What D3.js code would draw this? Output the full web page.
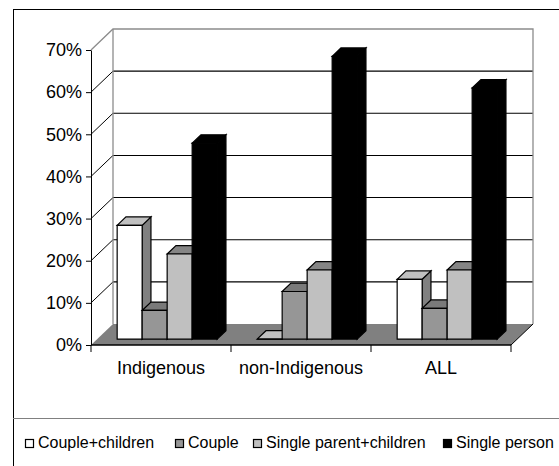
<!DOCTYPE html>
<html>
<head>
<meta charset="utf-8">
<script src="https://cdn.jsdelivr.net/npm/d3@7"></script>
<style>
  body { margin: 0; background: #fff; }
  svg { display: block; }
  text { font-family: "Liberation Sans", Arial, sans-serif; fill: #000; }
</style>
</head>
<body>
<svg id="chart" width="559" height="466"></svg>
<script>
// Household type shares by population group
const categories = ["Indigenous", "non-Indigenous", "ALL"];
const seriesNames = ["Couple+children", "Couple", "Single parent+children", "Single person"];
const coupleChildren = [0.27, 0.0, 0.142];
const couple = [0.068, 0.113, 0.073];
const singleParent = [0.202, 0.164, 0.164];
const singlePerson = [0.465, 0.671, 0.596];
const tickValues = [0, 0.1, 0.2, 0.3, 0.4, 0.5, 0.6, 0.7];
const tickLabels = ["0%", "10%", "20%", "30%", "40%", "50%", "60%", "70%"];

const seriesValues = [coupleChildren, couple, singleParent, singlePerson];
// front / top / side shading per series
const faceColors = [
  { front: "#ffffff", top: "#c0c0c0", side: "#808080" },
  { front: "#969696", top: "#7a7a7a", side: "#5a5a5a" },
  { front: "#c0c0c0", top: "#858585", side: "#606060" },
  { front: "#000000", top: "#000000", side: "#000000" }
];

const svg = d3.select("#chart");

// plot geometry (front plane) and oblique depth offset
const plotLeft = 91, plotRight = 511, plotBottom = 345, plotTop = 50;
const depthX = 22, depthY = -21;
const proj = z => [z * depthX, z * depthY];

const y = d3.scaleLinear().domain([0, 0.7]).range([plotBottom, plotTop]);
const x = d3.scaleBand().domain(categories).range([plotLeft, plotRight]).paddingInner(0).paddingOuter(0);
const s = d3.scaleBand().domain(seriesNames).range([0, x.bandwidth()]).paddingInner(0).paddingOuter(0.8);

// outer frame and legend separator
svg.append("line").attr("x1", 13).attr("x2", 559).attr("y1", 9.5).attr("y2", 9.5).attr("stroke", "#000");
svg.append("line").attr("x1", 13.5).attr("x2", 13.5).attr("y1", 9).attr("y2", 466).attr("stroke", "#000");
svg.append("line").attr("x1", 13).attr("x2", 559).attr("y1", 418.5).attr("y2", 418.5).attr("stroke", "#808080");

const back = proj(1);
// back wall
svg.append("rect")
  .attr("x", plotLeft + back[0]).attr("y", plotTop + back[1])
  .attr("width", plotRight - plotLeft).attr("height", plotBottom - plotTop)
  .attr("fill", "#fff");

// gridlines on back and side walls
const grid = svg.append("g");
tickValues.forEach((v, i) => {
  const yy = y(v);
  if (i > 0 && i < tickValues.length - 1) {
    grid.append("line")
      .attr("x1", plotLeft + back[0]).attr("x2", plotRight + back[0])
      .attr("y1", yy + back[1]).attr("y2", yy + back[1])
      .attr("stroke", "#000").attr("stroke-width", 1.1);
    grid.append("line")
      .attr("x1", plotLeft).attr("x2", plotLeft + back[0])
      .attr("y1", yy).attr("y2", yy + back[1])
      .attr("stroke", "#000").attr("stroke-width", 1);
  }
});
// wall outlines
const wallTop = y(0.7);
grid.append("path")
  .attr("d", `M${plotLeft},${wallTop} L${plotLeft + back[0]},${wallTop + back[1]} L${plotRight + back[0]},${wallTop + back[1]} L${plotRight + back[0]},${plotBottom + back[1]}`)
  .attr("fill", "none").attr("stroke", "#8c8c8c").attr("stroke-width", 1.3);
grid.append("line")
  .attr("x1", plotLeft + back[0]).attr("x2", plotLeft + back[0])
  .attr("y1", wallTop + back[1]).attr("y2", plotBottom + back[1])
  .attr("stroke", "#8c8c8c").attr("stroke-width", 1.3);

// floor
svg.append("path")
  .attr("d", `M${plotLeft},${plotBottom} L${plotRight},${plotBottom} L${plotRight + back[0]},${plotBottom + back[1]} L${plotLeft + back[0]},${plotBottom + back[1]} Z`)
  .attr("fill", "#808080");
svg.append("line")
  .attr("x1", plotRight).attr("y1", plotBottom).attr("x2", plotRight + back[0]).attr("y2", plotBottom + back[1])
  .attr("stroke", "#000").attr("stroke-width", 1);

// bars
const z0 = 0.28, z1 = 0.68;
const f = proj(z0), b = proj(z1);
const bars = svg.append("g").attr("stroke", "#000").attr("stroke-width", 1.2).attr("stroke-linejoin", "miter");
const pts = a => a.map(p => p.join(",")).join(" ");
categories.forEach((cat, ci) => {
  seriesNames.forEach((name, si) => {
    const v = seriesValues[si][ci];
    const x0 = x(cat) + s(name), x1 = x0 + s.bandwidth();
    const yt = y(v), yb = y(0);
    const c = faceColors[si];
    bars.append("polygon")
      .attr("points", pts([[x1 + f[0], yt + f[1]], [x1 + b[0], yt + b[1]], [x1 + b[0], yb + b[1]], [x1 + f[0], yb + f[1]]]))
      .attr("fill", c.side);
    bars.append("polygon")
      .attr("points", pts([[x0 + f[0], yt + f[1]], [x1 + f[0], yt + f[1]], [x1 + b[0], yt + b[1]], [x0 + b[0], yt + b[1]]]))
      .attr("fill", c.top);
    bars.append("polygon")
      .attr("points", pts([[x0 + f[0], yt + f[1]], [x1 + f[0], yt + f[1]], [x1 + f[0], yb + f[1]], [x0 + f[0], yb + f[1]]]))
      .attr("fill", c.front);
  });
});

// value axis
const yAxis = d3.axisLeft(y).tickValues(tickValues)
  .tickFormat((d, i) => tickLabels[i]).tickSize(5).tickSizeOuter(0).tickPadding(4);
const ya = svg.append("g").attr("transform", `translate(${plotLeft},0)`).call(yAxis);
ya.select(".domain").attr("stroke", "#000");
ya.selectAll(".tick line").attr("stroke", "#000");
ya.selectAll("text").attr("font-size", 18).attr("font-family", "Liberation Sans, Arial, sans-serif").attr("fill", "#000");

// category axis
svg.append("line").attr("x1", plotLeft).attr("x2", plotRight).attr("y1", plotBottom).attr("y2", plotBottom)
  .attr("stroke", "#000").attr("stroke-width", 1.3);
const boundaries = [plotLeft].concat(categories.map(cat => x(cat) + x.bandwidth()));
svg.selectAll(".ctick").data(boundaries).enter().append("line")
  .attr("x1", d => d).attr("x2", d => d).attr("y1", plotBottom).attr("y2", plotBottom + 7)
  .attr("stroke", "#000");
svg.selectAll(".clabel").data(categories).enter().append("text")
  .attr("x", d => x(d) + x.bandwidth() / 2).attr("y", 374)
  .attr("text-anchor", "middle").attr("font-size", 18).text(d => d);

// legend
const legendX = [25, 175, 253, 443];
const legend = svg.append("g");
seriesNames.forEach((name, i) => {
  legend.append("rect").attr("x", legendX[i] + 0.5).attr("y", 439.5).attr("width", 8).attr("height", 8)
    .attr("fill", faceColors[i].front).attr("stroke", "#000").attr("stroke-width", 1.2);
  legend.append("text").attr("x", legendX[i] + 13).attr("y", 447.5).attr("font-size", 16).text(name);
});
</script>
</body>
</html>
